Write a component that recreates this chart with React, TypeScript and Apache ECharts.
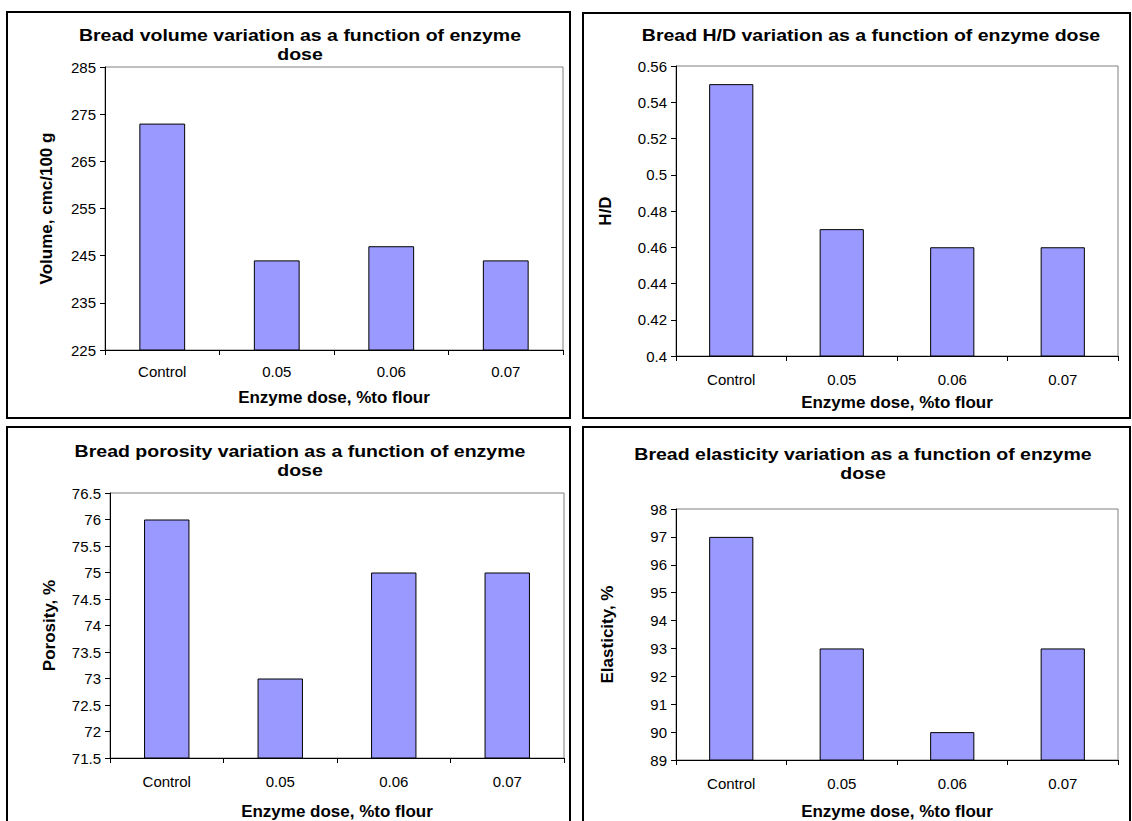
import React, { useEffect, useRef } from "react";
import * as echarts from "echarts";

const categories = ["Control", "0.05", "0.06", "0.07"];

const volumeValues = [273, 244, 247, 244];
const hdValues = [0.55, 0.47, 0.46, 0.46];
const porosityValues = [76, 73, 75, 75];
const elasticityValues = [97, 93, 90, 93];

const titleLines = [
  ["Bread volume variation as a function of enzyme", "dose"],
  ["Bread H/D variation as a function of enzyme dose"],
  ["Bread porosity variation as a function of enzyme", "dose"],
  ["Bread elasticity variation as a function of enzyme", "dose"],
];
const yNames = ["Volume, cmc/100 g", "H/D", "Porosity, %", "Elasticity, %"];
const xName = "Enzyme dose, %to flour";

const yScales = [
  { min: 225, max: 285, interval: 10 },
  { min: 0.4, max: 0.56, interval: 0.02 },
  { min: 71.5, max: 76.5, interval: 0.5 },
  { min: 89, max: 98, interval: 1 },
];

const FONT = "'Liberation Sans', Arial, sans-serif";
const W = 1132;
const H = 821;

// plot rectangles, label/name offsets and title anchors for the four panels
const panels = [
  { left: 105, top: 67, right: 563, bottom: 350, labelMargin: 14, xGap: 39, yGap: 50, tx: 300, ty: 36 },
  { left: 676, top: 66, right: 1118, bottom: 356, labelMargin: 16, xGap: 38, yGap: 62, tx: 871, ty: 36 },
  { left: 110, top: 493, right: 564, bottom: 758, labelMargin: 16, xGap: 45, yGap: 52, tx: 300, ty: 452 },
  { left: 676, top: 509, right: 1118, bottom: 761, labelMargin: 16, xGap: 43, yGap: 60, tx: 863, ty: 455 },
];

const boxes = [
  { x: 7, y: 12, w: 563, h: 406 },
  { x: 583, y: 13, w: 547, h: 405 },
  { x: 7, y: 427, w: 563, h: 410 },
  { x: 583, y: 427, w: 547, h: 410 },
];

const seriesData = [volumeValues, hdValues, porosityValues, elasticityValues];

export default function App() {
  const ref = useRef<HTMLDivElement>(null);

  useEffect(() => {
    if (!ref.current) return;
    const chart = echarts.init(ref.current, undefined, { renderer: "svg" });

    const titleTexts: any[] = [];
    panels.forEach((p, i) => {
      titleLines[i].forEach((line, k) => {
        titleTexts.push({
          type: "text",
          x: p.tx,
          y: p.ty + k * 19,
          scaleX: 1.22,
          silent: true,
          style: {
            text: line,
            x: 0,
            y: 0,
            fill: "#000",
            font: `bold 16px ${FONT}`,
            textAlign: "center",
            textVerticalAlign: "middle",
          },
        });
      });
    });

    const option: any = {
      animation: false,
      backgroundColor: "#ffffff",
      grid: panels.map((p) => ({
        left: p.left,
        top: p.top,
        width: p.right - p.left,
        height: p.bottom - p.top,
        show: true,
        borderColor: "#808080",
        borderWidth: 1,
        backgroundColor: "transparent",
        containLabel: false,
      })),
      xAxis: panels.map((p, i) => ({
        type: "category",
        gridIndex: i,
        data: categories,
        name: xName,
        nameLocation: "middle",
        nameGap: p.xGap,
        nameTextStyle: { fontFamily: FONT, fontSize: 17, fontWeight: "bold", color: "#000" },
        axisLine: { show: true, lineStyle: { color: "#000", width: 1 } },
        axisTick: { show: true, length: 5, lineStyle: { color: "#000" } },
        axisLabel: { fontFamily: FONT, fontSize: 15, color: "#000", margin: p.labelMargin },
        splitLine: { show: false },
      })),
      yAxis: panels.map((p, i) => ({
        type: "value",
        gridIndex: i,
        min: yScales[i].min,
        max: yScales[i].max,
        interval: yScales[i].interval,
        name: yNames[i],
        nameLocation: "middle",
        nameRotate: 90,
        nameGap: p.yGap,
        nameTextStyle: { fontFamily: FONT, fontSize: 17, fontWeight: "bold", color: "#000" },
        axisLine: { show: true, lineStyle: { color: "#000", width: 1 } },
        axisTick: { show: true, length: 5, lineStyle: { color: "#000" } },
        axisLabel: { fontFamily: FONT, fontSize: 15, color: "#000", margin: 9 },
        splitLine: { show: false },
      })),
      series: seriesData.map((d, i) => ({
        type: "bar",
        xAxisIndex: i,
        yAxisIndex: i,
        data: d,
        barWidth: "40%",
        itemStyle: { color: "#9999FF", borderColor: "#000", borderWidth: 1 },
      })),
      graphic: [
        ...titleTexts,
        ...boxes.map((b) => ({
          type: "rect",
          shape: { x: b.x, y: b.y, width: b.w, height: b.h },
          style: { fill: "none", stroke: "#000", lineWidth: 2 },
          silent: true,
          z: 100,
        })),
      ],
    };

    chart.setOption(option);
    return () => chart.dispose();
  }, []);

  return (
    <div
      ref={ref}
      style={{ position: "absolute", left: 0, top: 0, width: W, height: H, background: "#fff" }}
    />
  );
}
